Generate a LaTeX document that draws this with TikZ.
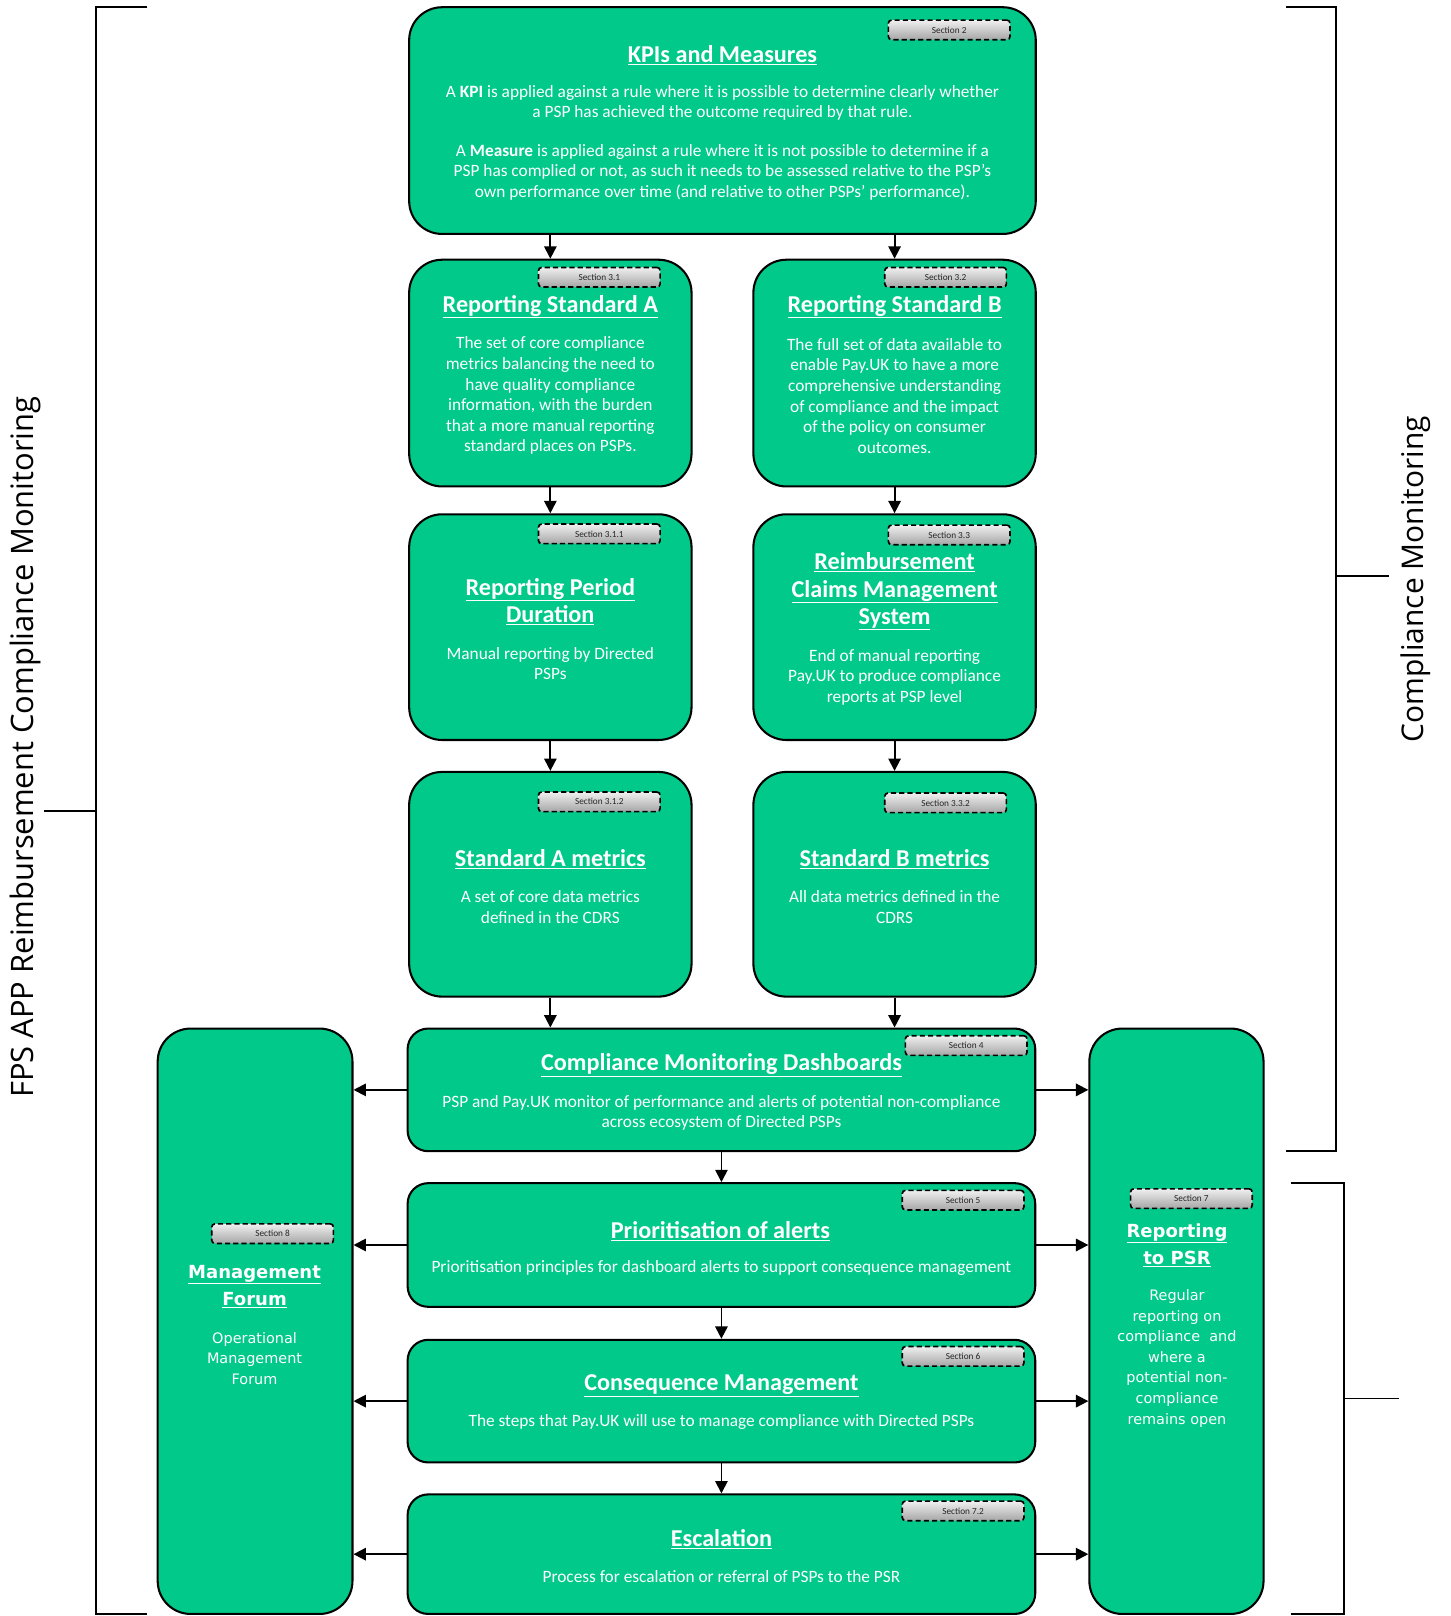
\documentclass[tikz,border=0pt]{standalone}
\usepackage{fontspec}
\setmainfont{Carlito}
\newfontfamily\vfont{DejaVu Sans}
\newfontfamily\ofont{Open Sans}
\usetikzlibrary{arrows.meta}
\definecolor{boxgreen}{RGB}{0,201,138}
\newcommand{\ul}[1]{\underline{#1}}
\begin{document}
\begin{tikzpicture}[x=1pt,y=-1pt,
  box/.style={draw=black, line width=2pt, fill=boxgreen, rounded corners=32pt, inner sep=0pt},
  cbox/.style={draw=black, line width=2pt, fill=boxgreen, rounded corners=20pt, inner sep=0pt},
  tagbox/.style={draw=black, dashed, dash pattern=on 5pt off 3pt, line width=1.6pt, rounded corners=3pt, top color=gray!12, bottom color=gray!70, minimum width=118pt, minimum height=19pt, inner sep=0pt, font=\fontsize{9}{10}\selectfont, text=black!85},
  ttl/.style={text=white, font=\fontsize{23.5}{26.5}\selectfont\bfseries, align=center, inner sep=0pt, yshift=-2.5pt},
  bdy/.style={text=white, font=\fontsize{16.8}{20}\selectfont, align=center, inner sep=0pt},
  vttl/.style={text=white, font=\vfont\fontsize{17.5}{26}\selectfont\bfseries, align=center, inner sep=0pt, yshift=-2pt},
  vbdy/.style={text=white, font=\vfont\fontsize{14}{20}\selectfont, align=center, inner sep=0pt},
  arr/.style={line width=1.8pt, -{Triangle[length=12pt,width=12pt]}},
  brk/.style={line width=1.8pt, black},
  side/.style={font=\ofont\fontsize{30}{32}\selectfont, rotate=90, inner sep=0pt},
]
\useasboundingbox (0,0) rectangle (1407,1568);

% ---------- boxes ----------
\node[box, minimum width=608pt, minimum height=220pt] (kpi) at (701,117) {};
\node[box, minimum width=274pt, minimum height=220pt] (stdA) at (534,362) {};
\node[box, minimum width=274pt, minimum height=220pt] (stdB) at (868,362) {};
\node[box, minimum width=274pt, minimum height=219pt] (perA) at (534,608.5) {};
\node[box, minimum width=274pt, minimum height=219pt] (perB) at (868,608.5) {};
\node[box, minimum width=274pt, minimum height=218pt] (metA) at (534,858) {};
\node[box, minimum width=274pt, minimum height=218pt] (metB) at (868,858) {};
\node[cbox, minimum width=609pt, minimum height=119pt] (dash) at (700,1057.5) {};
\node[cbox, minimum width=609pt, minimum height=120pt] (prio) at (700,1208) {};
\node[cbox, minimum width=609pt, minimum height=119pt] (cons) at (700,1359.5) {};
\node[cbox, minimum width=609pt, minimum height=116pt] (esc) at (700,1508) {};
\node[box, minimum width=189pt, minimum height=568pt] (mgmt) at (247.5,1282) {};
\node[box, minimum width=169pt, minimum height=568pt] (psr) at (1141.5,1282) {};

% ---------- tags ----------
\node[tagbox] (t2) at (921,29) {Section 2};
\node[tagbox] (t31) at (581.5,269) {Section 3.1};
\node[tagbox] (t32) at (917.5,269) {Section 3.2};
\node[tagbox] (t311) at (581.5,518) {Section 3.1.1};
\node[tagbox] (t33) at (921,519) {Section 3.3};
\node[tagbox] (t312) at (581.5,778) {Section 3.1.2};
\node[tagbox] (t332) at (917.5,779) {Section 3.3.2};
\node[tagbox] (t4) at (937.5,1014.5) {Section 4};
\node[tagbox] (t5) at (934.5,1164.5) {Section 5};
\node[tagbox] (t6) at (934.5,1316) {Section 6};
\node[tagbox] (t72) at (934.5,1466) {Section 7.2};
\node[tagbox] (t8) at (264.5,1197) {Section 8};
\node[tagbox] (t7) at (1156,1163) {Section 7};

% ---------- texts ----------
\node[ttl] (kpiT) at (701,51) {\ul{KPIs and Measures}};
\node[bdy] (kpiB1) at (701,100) {A \textbf{KPI} is applied against a rule where it is possible to determine clearly whether\\ a PSP has achieved the outcome required by that rule.};
\node[bdy] (kpiB2) at (701,167) {A \textbf{Measure} is applied against a rule where it is not possible to determine if a\\ PSP has complied or not, as such it needs to be assessed relative to the PSP’s\\ own performance over time (and relative to other PSPs’ performance).};

\node[ttl] (stdAT) at (534,295) {\ul{Reporting Standard A}};
\node[bdy] (stdAB) at (534,384) {The set of core compliance\\ metrics balancing the need to\\ have quality compliance\\ information, with the burden\\ that a more manual reporting\\ standard places on PSPs.};
\node[ttl] (stdBT) at (868,295) {\ul{Reporting Standard B}};
\node[bdy] (stdBB) at (868,384) {The full set of data available to\\ enable Pay.UK to have a more\\ comprehensive understanding\\ of compliance and the impact\\ of the policy on consumer\\ outcomes.};

\node[ttl] (perAT) at (534,581) {\ul{Reporting Period}\\ \ul{Duration}};
\node[bdy] (perAB) at (534,644) {Manual reporting by Directed\\ PSPs};
\node[ttl] (perBT) at (868,571.5) {\ul{Reimbursement}\\ \ul{Claims Management}\\ \ul{System}};
\node[bdy] (perBB) at (868,657) {End of manual reporting\\ Pay.UK to produce compliance\\ reports at PSP level};

\node[ttl] (metAT) at (534,831) {\ul{Standard A metrics}};
\node[bdy] (metAB) at (534,880) {A set of core data metrics\\ defined in the CDRS};
\node[ttl] (metBT) at (868,831) {\ul{Standard B metrics}};
\node[bdy] (metBB) at (868,880) {All data metrics defined in the\\ CDRS};

\node[ttl] (dashT) at (700,1031) {\ul{Compliance Monitoring Dashboards}};
\node[bdy] (dashB) at (700,1080) {PSP and Pay.UK monitor of performance and alerts of potential non-compliance\\ across ecosystem of Directed PSPs};
\node[ttl] (prioT) at (699,1192) {\ul{Prioritisation of alerts}};
\node[bdy] (prioB) at (700,1230) {Prioritisation principles for dashboard alerts to support consequence management};
\node[ttl] (consT) at (700,1342) {\ul{Consequence Management}};
\node[bdy] (consB) at (700,1380) {The steps that Pay.UK will use to manage compliance with Directed PSPs};
\node[ttl] (escT) at (700,1491) {\ul{Escalation}};
\node[bdy] (escB) at (700,1530) {Process for escalation or referral of PSPs to the PSR};

\node[vttl] (mgmtT) at (247,1246) {\ul{Management}\\ \ul{Forum}};
\node[vbdy] (mgmtB) at (247,1318) {Operational\\ Management\\ Forum};
\node[vttl] (psrT) at (1142,1206) {\ul{Reporting}\\ \ul{to PSR}};
\node[vbdy] (psrB) at (1142,1318) {Regular\\ reporting on\\ compliance \ and\\ where a\\ potential non-\\ compliance\\ remains open};

% ---------- arrows ----------
\draw[arr] (kpi.south -| stdA.north) -- (stdA.north);
\draw[arr] (kpi.south -| stdB.north) -- (stdB.north);
\draw[arr] (stdA.south) -- (perA.north);
\draw[arr] (stdB.south) -- (perB.north);
\draw[arr] (perA.south) -- (metA.north);
\draw[arr] (perB.south) -- (metB.north);
\draw[arr] (metA.south) -- (metA.south |- dash.north);
\draw[arr] (metB.south) -- (metB.south |- dash.north);
\draw[arr] (dash.south) -- (prio.north);
\draw[arr] (prio.south) -- (cons.north);
\draw[arr] (cons.south) -- (esc.north);
\foreach \n in {dash,prio,cons,esc}{
  \draw[arr] (\n.west) -- (\n.west -| mgmt.east);
  \draw[arr] (\n.east) -- (\n.east -| psr.west);
}

% ---------- brackets ----------
\draw[brk] (143,7) -- (93,7) -- (93,1566) -- (143,1566);
\draw[brk] (93,787) -- (43,787);
\draw[brk] (1248,7) -- (1296,7) -- (1296,1117) -- (1248,1117);
\draw[brk] (1296,559) -- (1348,559);
\draw[brk] (1253,1148) -- (1304,1148) -- (1304,1566) -- (1253,1566);
\draw[brk] (1304,1357) -- (1357,1357);

\node[side] (lbl1) at (25,725) {FPS APP Reimbursement Compliance Monitoring};
\node[side, font=\ofont\fontsize{29}{32}\selectfont] (lbl2) at (1374,562) {Compliance Monitoring};
\end{tikzpicture}
\end{document}
